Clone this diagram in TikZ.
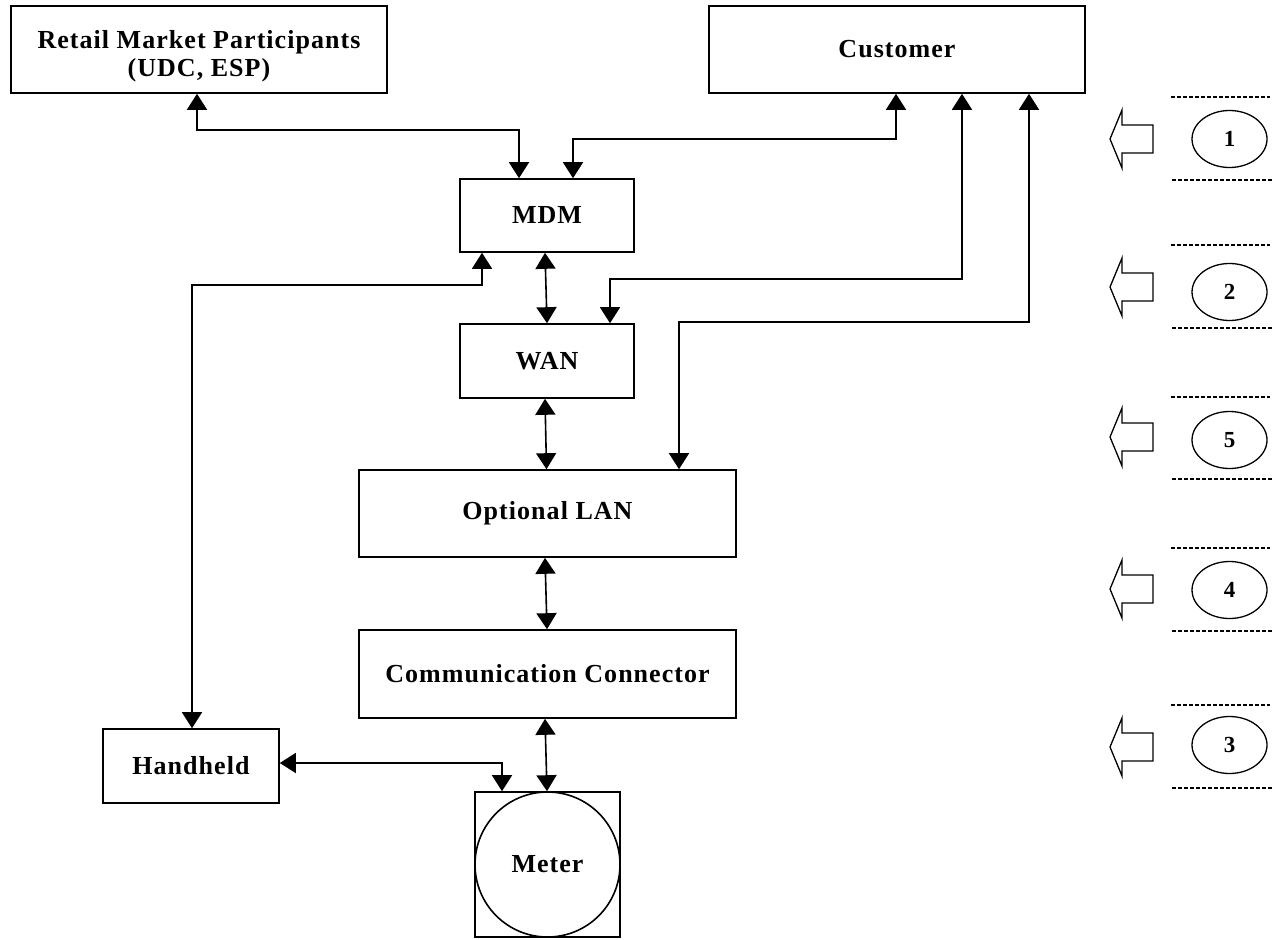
\documentclass[tikz,border=0pt]{standalone}
\usepackage{fontspec}
\setmainfont{Liberation Serif}[LetterSpace=4]
\usetikzlibrary{arrows.meta,calc,shapes.geometric}
\tikzset{
  box/.style={draw, line width=1.6pt, inner sep=0pt, font=\bfseries\fontsize{26}{28}\selectfont, align=center},
  boxtext/.style={inner sep=0pt, font=\bfseries\fontsize{26}{28}\selectfont, align=center},
  conn/.style={line width=1.6pt},
  dbl/.style={conn, {Triangle[length=16pt,width=20pt]}-{Triangle[length=16pt,width=20pt]}},
  blockarrow/.style={draw, line width=1.3pt, line join=miter},
  numcirc/.style={draw, ellipse, line width=1.3pt, minimum width=75pt, minimum height=57pt, inner sep=0pt, font=\bfseries\fontsize{23}{24}\selectfont},
  dashline/.style={line width=1.3pt, dash pattern=on 3.5pt off 2.5pt},
}
\begin{document}
\begin{tikzpicture}[x=1pt,y=-1pt]
\useasboundingbox (0,0) rectangle (1273,939);
% boxes
\node[box, minimum width=376pt, minimum height=87pt] (retail) at (199,49.5) {};
\node[boxtext] (retailtext) at (199,56) {Retail Market Participants\\(UDC, ESP)};
\node[box, minimum width=376pt, minimum height=87pt] (cust) at (897,49.5) {Customer};
\node[box, minimum width=174pt, minimum height=73pt] (mdm) at (547,215.5) {MDM};
\node[box, minimum width=174pt, minimum height=74pt] (wan) at (547,361) {WAN};
\node[box, minimum width=377pt, minimum height=87pt] (lan) at (547.5,513.5) {Optional LAN};
\node[box, minimum width=377pt, minimum height=88pt] (cc) at (547.5,674) {Communication Connector};
\node[box, minimum width=176pt, minimum height=74pt] (hh) at (191,766) {Handheld};
\node[box, minimum width=145pt, minimum height=145pt] (meter) at (547.5,864.5) {};
\node[box, circle, minimum size=145pt] (metercirc) at (meter.center) {Meter};

% connectors
\draw[dbl] ([xshift=-2pt]retail.south) -- ++(0,36) -| ([xshift=-28pt]mdm.north);
\draw[dbl] ([xshift=-1pt]cust.south) -- ++(0,45) -| ([xshift=26pt]mdm.north);
\draw[dbl] ([xshift=65pt]cust.south) -- ++(0,185) -| ([xshift=63pt]wan.north);
\draw[dbl] ([xshift=132pt]cust.south) -- ++(0,228) -| ([xshift=131.5pt]lan.north);
\draw[dbl] ([xshift=-65pt]mdm.south) -- ++(0,32) -| ([xshift=1pt]hh.north);
\draw[dbl] ([yshift=3pt]hh.east) -| ([xshift=-45.5pt]meter.north);
\draw[dbl] ([xshift=-2pt]mdm.south) -- (wan.north);
\draw[dbl] ([xshift=-2pt]wan.south) -- ([xshift=-1pt]lan.north);
\draw[dbl] ([xshift=-2.5pt]lan.south) -- ([xshift=-0.5pt]cc.north);
\draw[dbl] ([xshift=-2.5pt]cc.south) -- ([xshift=-0.5pt]meter.north);

% right column
\foreach \ay/\cy/\ty/\by/\lab [count=\i] in {139/139/97/180/1, 287/292/245/328/2, 437/440/397/479/5, 589/590/548/631/4, 747/745/705/788/3}{
  \draw[blockarrow] (1110,\ay) -- (1122,\ay-29) -- (1122,\ay-14) -- (1153,\ay-14) -- (1153,\ay+14) -- (1122,\ay+14) -- (1122,\ay+29) -- cycle;
  \node[numcirc] (n\i) at (1229.5,\cy) {\lab};
  \draw[dashline] (1171,\ty) -- (1270,\ty);
  \draw[dashline] (1172,\by) -- (1273,\by);
}
\end{tikzpicture}
\end{document}
